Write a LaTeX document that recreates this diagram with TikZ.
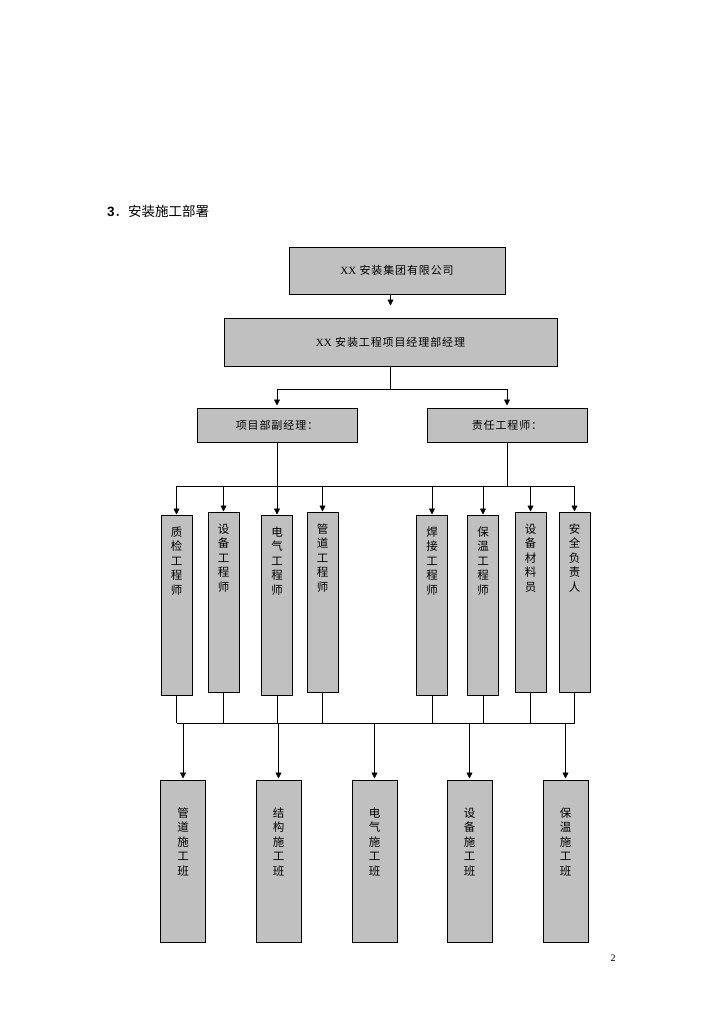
\documentclass[tikz,border=0pt]{standalone}
\usepackage{fontspec}
\setmainfont{Liberation Serif}
\newfontfamily\cjk{Noto Sans CJK SC}
\newfontfamily\cjkwide[LetterSpace=8]{Noto Sans CJK SC}
\newfontfamily\latinsans{Liberation Sans}
\usetikzlibrary{arrows.meta}
\definecolor{boxgray}{RGB}{192,192,192}
\tikzset{
  box/.style={draw=black, line width=1pt, fill=boxgray, inner sep=0pt,
    font=\cjkwide\fontsize{11}{14.5}\selectfont},
  tallbox/.style={box, minimum width=31pt, minimum height=180pt},
  teambox/.style={box, minimum width=45pt, minimum height=162pt},
  vtext/.style={anchor=north, inner sep=0pt, align=center,
    font=\cjk\fontsize{11.5}{14.5}\selectfont},
  arr/.style={-{Triangle[width=6pt,length=6pt]}, line width=0.8pt},
  line/.style={line width=0.8pt}
}
\begin{document}
\begin{tikzpicture}[x=1pt,y=-1pt]
\useasboundingbox (0,0) rectangle (724,1024);
% title and page number
\node[anchor=west, inner sep=0pt, font=\cjk\fontsize{13.5}{13.5}\selectfont] (title) at (107,211)
  {{\latinsans\bfseries 3}．安装施工部署};
\node[inner sep=0pt, font=\fontsize{10}{10}\selectfont] (page) at (613,958) {2};
% top levels
\node[box, minimum width=216pt, minimum height=47pt] (group) at (397,270.5)
  {{\rmfamily XX} 安装集团有限公司};
\node[box, minimum width=333pt, minimum height=48pt] (pm) at (390.5,342)
  {{\rmfamily XX} 安装工程项目经理部经理};
\node[box, minimum width=160pt, minimum height=34pt] (deputy) at (277,425) {项目部副经理：};
\node[box, minimum width=160pt, minimum height=34pt] (chief) at (507,425) {责任工程师：};
% engineers
\foreach \n/\x/\y/\t in {
  q1/176.5/605/{质\\检\\工\\程\\师},
  q2/223.5/602/{设\\备\\工\\程\\师},
  q3/277/605/{电\\气\\工\\程\\师},
  q4/322.5/602/{管\\道\\工\\程\\师},
  q5/432/605/{焊\\接\\工\\程\\师},
  q6/483/605/{保\\温\\工\\程\\师},
  q7/530.5/602/{设\\备\\材\\料\\员},
  q8/574.5/602/{安\\全\\负\\责\\人}}
  \node[tallbox, label={[vtext, yshift=-12pt]north:\t}] (\n) at (\x,\y) {};
% teams
\foreach \n/\x/\t in {
  t1/183/{管\\道\\施\\工\\班},
  t2/278.5/{结\\构\\施\\工\\班},
  t3/374.5/{电\\气\\施\\工\\班},
  t4/469.5/{设\\备\\施\\工\\班},
  t5/565.5/{保\\温\\施\\工\\班}}
  \node[teambox, label={[vtext, yshift=-28pt]north:\t}] (\n) at (\x,861) {};
% connectors
\draw[arr, shorten >=12pt] (group.south -| pm) -- (pm.north);
\draw[line] (pm.south) -- ++(0,23) coordinate (split);
\draw[arr, shorten >=2pt] (split) -| (deputy.north);
\draw[arr, shorten >=2pt] (split) -| (chief.north);
\coordinate (bus1) at (0,486);
\coordinate (bus2) at (0,723);
\draw[line] (deputy.south) -- (deputy.south |- bus1);
\draw[line] (chief.south) -- (chief.south |- bus1);
\draw[line] (bus1 -| q1) -- (bus1 -| q8);
\draw[line] (bus2 -| q1) -- (bus2 -| q8);
\foreach \n in {q1,q2,q3,q4,q5,q6,q7,q8} {
  \draw[arr] (bus1 -| \n) -- (\n.north);
  \draw[line] (\n.south) -- (bus2 -| \n);
}
\foreach \n in {t1,t2,t3,t4,t5}
  \draw[arr, shorten >=1pt] (bus2 -| \n) -- (\n.north);
\end{tikzpicture}
\end{document}
